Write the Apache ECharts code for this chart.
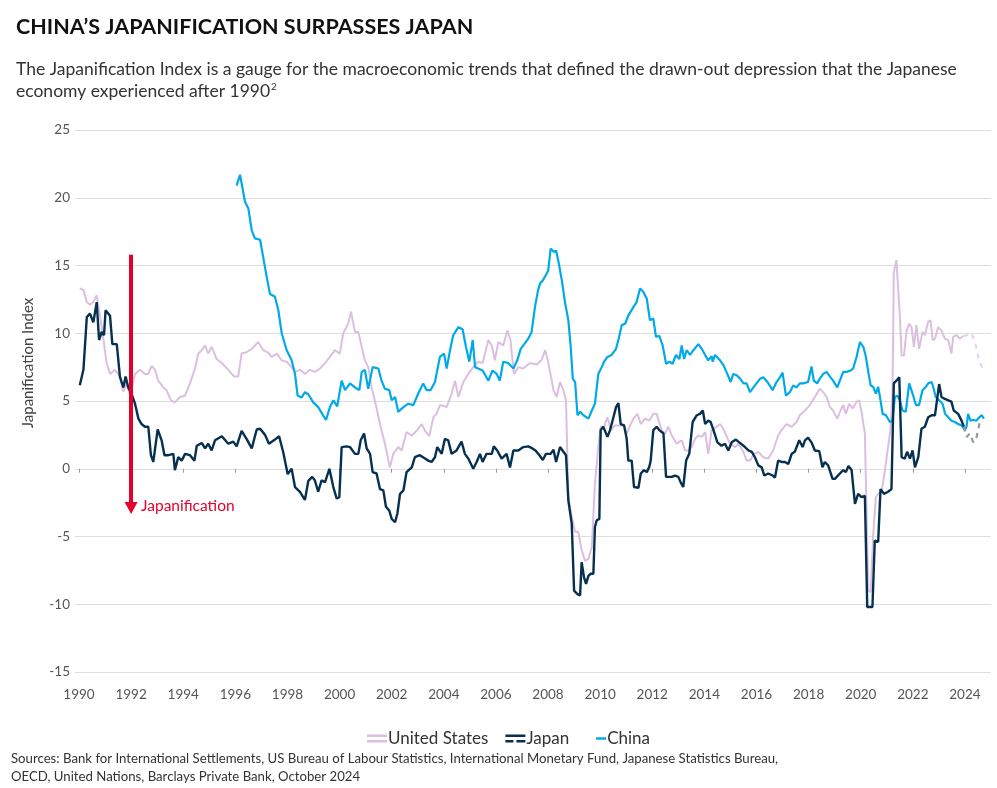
<!DOCTYPE html>
<html>
<head>
<meta charset="utf-8">
<script src="https://cdn.jsdelivr.net/npm/echarts@6/dist/echarts.min.js"></script>
<style>
html,body{margin:0;padding:0;background:#fff;}
#chart{width:997px;height:788px;}
</style>
</head>
<body>
<div id="chart"></div>
<script>
// ---- Data (year, Japanification Index) ----
const seriesNames = ['United States', 'Japan', 'China'];
const xTicks = [1990,1992,1994,1996,1998,2000,2002,2004,2006,2008,2010,2012,2014,2016,2018,2020,2022,2024];
const yTicks = [-15,-10,-5,0,5,10,15,20,25];

const usData = [
[1990.03,13.3],[1990.17,13.2],[1990.3,12.3],[1990.42,12.1],[1990.55,12.3],[1990.68,12.8],[1990.87,10.5],[1991.06,7.8],[1991.19,7.0],[1991.38,7.3],[1991.57,6.8],[1991.70,5.7],[1991.83,6.3],[1991.96,5.4],[1992.15,7.0],[1992.34,7.3],[1992.53,7.0],[1992.66,7.0],[1992.79,7.6],[1992.92,7.3],[1993.04,6.5],[1993.24,6.0],[1993.36,5.8],[1993.53,5.05],[1993.68,4.9],[1993.88,5.3],[1994.07,5.4],[1994.26,6.3],[1994.45,7.4],[1994.58,8.5],[1994.71,8.75],[1994.84,9.1],[1994.96,8.5],[1995.09,9.0],[1995.28,8.1],[1995.48,7.8],[1995.73,7.3],[1995.96,6.8],[1996.11,6.8],[1996.24,8.5],[1996.43,8.6],[1996.63,8.85],[1996.88,9.35],[1997.07,8.75],[1997.27,8.55],[1997.39,8.25],[1997.59,8.5],[1997.78,8.0],[1997.97,7.9],[1998.16,7.5],[1998.29,7.15],[1998.48,7.3],[1998.67,7.0],[1998.86,7.3],[1999.06,7.15],[1999.25,7.4],[1999.44,7.8],[1999.63,8.25],[1999.82,8.75],[2000.01,8.5],[2000.14,10.0],[2000.33,10.7],[2000.44,11.6],[2000.59,10.1],[2000.72,10.1],[2000.85,9.0],[2000.97,8.0],[2001.10,7.5],[2001.23,6.0],[2001.36,5.0],[2001.55,3.3],[2001.74,1.85],[2001.93,0.1],[2002.06,1.1],[2002.25,1.6],[2002.38,1.35],[2002.57,2.7],[2002.77,2.45],[2002.96,2.8],[2003.15,3.3],[2003.28,2.8],[2003.44,2.4],[2003.60,3.8],[2003.72,4.05],[2003.85,4.7],[2004.11,4.55],[2004.30,5.55],[2004.43,6.5],[2004.56,5.3],[2004.75,6.4],[2004.94,7.0],[2005.13,7.5],[2005.32,7.9],[2005.49,7.8],[2005.71,9.5],[2005.84,9.1],[2005.96,8.0],[2006.09,9.35],[2006.28,9.1],[2006.44,10.2],[2006.56,9.5],[2006.69,7.0],[2006.86,7.5],[2007.05,7.4],[2007.31,7.8],[2007.57,7.7],[2007.76,8.05],[2007.89,8.75],[2007.98,8.1],[2008.08,7.15],[2008.21,5.8],[2008.33,5.3],[2008.46,6.4],[2008.59,5.8],[2008.69,5.05],[2008.78,-2.1],[2008.91,-3.55],[2009.04,-4.65],[2009.16,-4.65],[2009.29,-6.0],[2009.42,-6.8],[2009.55,-6.65],[2009.68,-5.8],[2009.80,-1.1],[2009.93,1.6],[2010.02,3.1],[2010.15,3.1],[2010.28,3.8],[2010.41,2.85],[2010.57,3.2],[2010.74,3.2],[2010.89,3.2],[2011.02,2.6],[2011.15,3.2],[2011.28,3.7],[2011.43,4.05],[2011.56,3.3],[2011.72,3.7],[2011.89,3.55],[2012.04,4.05],[2012.17,4.05],[2012.36,2.85],[2012.49,2.6],[2012.62,3.1],[2012.75,2.45],[2012.94,1.85],[2013.13,2.1],[2013.26,1.35],[2013.39,1.35],[2013.51,1.6],[2013.64,2.2],[2013.77,2.45],[2013.90,2.35],[2014.03,2.7],[2014.15,1.1],[2014.28,2.85],[2014.47,3.1],[2014.60,3.3],[2014.73,2.95],[2014.86,2.35],[2014.98,1.85],[2015.18,1.6],[2015.30,1.85],[2015.50,1.25],[2015.62,0.6],[2015.75,0.6],[2015.91,1.1],[2016.07,1.25],[2016.26,0.85],[2016.45,0.75],[2016.64,1.35],[2016.83,2.45],[2016.96,2.85],[2017.15,3.3],[2017.35,3.1],[2017.54,3.45],[2017.66,3.95],[2017.86,4.3],[2018.05,4.7],[2018.24,5.3],[2018.43,5.9],[2018.56,5.65],[2018.69,5.3],[2018.82,4.55],[2018.94,4.3],[2019.10,3.7],[2019.20,4.2],[2019.33,4.7],[2019.43,4.05],[2019.56,4.8],[2019.69,4.45],[2019.84,4.95],[2019.94,5.05],[2020.03,4.2],[2020.16,2.6],[2020.22,-2.85],[2020.29,-9.0],[2020.38,-9.1],[2020.48,-4.8],[2020.58,-2.1],[2020.67,-1.85],[2020.80,-1.7],[2020.93,-0.1],[2021.05,1.6],[2021.14,2.85],[2021.22,5.55],[2021.27,14.5],[2021.37,15.4],[2021.44,15.5],[2021.50,11.3],[2021.57,8.35],[2021.66,8.35],[2021.76,10.2],[2021.86,10.7],[2021.95,10.45],[2022.04,9.0],[2022.14,10.6],[2022.24,8.85],[2022.37,10.1],[2022.46,9.85],[2022.59,10.85],[2022.68,10.95],[2022.76,9.5],[2022.85,9.6],[2022.97,10.45],[2023.10,10.2],[2023.23,9.6],[2023.36,9.5],[2023.48,8.5],[2023.55,9.75],[2023.68,9.85],[2023.80,9.6],[2023.93,9.8]
];
const usEstimate = [
[2023.93,9.8],[2024.08,9.85],[2024.25,10.0],[2024.38,9.4],[2024.52,8.2],[2024.66,7.45]
];

const japanData = [
[1990.03,6.16],[1990.17,7.3],[1990.30,11.2],[1990.42,11.45],[1990.55,10.8],[1990.68,12.3],[1990.77,9.5],[1990.87,10.1],[1990.96,9.85],[1991.02,11.7],[1991.19,11.3],[1991.28,9.2],[1991.45,9.2],[1991.57,6.8],[1991.70,6.0],[1991.79,6.8],[1991.89,6.0],[1992.02,5.5],[1992.15,4.8],[1992.28,3.7],[1992.40,3.3],[1992.53,3.1],[1992.66,3.1],[1992.76,1.0],[1992.85,0.5],[1993.02,2.9],[1993.17,2.1],[1993.28,1.0],[1993.43,1.0],[1993.62,1.1],[1993.68,-0.1],[1993.81,0.86],[1993.94,0.6],[1994.07,1.1],[1994.26,1.0],[1994.43,0.6],[1994.52,1.7],[1994.71,1.9],[1994.84,1.5],[1994.96,1.85],[1995.09,1.35],[1995.22,2.1],[1995.48,2.4],[1995.73,1.85],[1995.92,2.0],[1996.05,1.65],[1996.24,2.8],[1996.43,2.2],[1996.63,1.5],[1996.82,2.9],[1996.95,2.95],[1997.14,2.5],[1997.29,1.85],[1997.52,2.15],[1997.68,2.4],[1997.84,1.2],[1998.01,-0.4],[1998.16,0.0],[1998.29,-1.35],[1998.48,-1.7],[1998.67,-2.3],[1998.80,-0.9],[1998.95,-0.6],[1999.05,-0.85],[1999.18,-1.7],[1999.31,-0.85],[1999.44,-1.0],[1999.61,0.0],[1999.76,-1.35],[1999.89,-2.2],[1999.99,-2.1],[2000.08,1.6],[2000.27,1.65],[2000.40,1.6],[2000.59,1.1],[2000.72,1.1],[2000.81,2.1],[2000.94,2.6],[2001.04,1.5],[2001.17,1.1],[2001.27,-0.25],[2001.42,-0.35],[2001.55,-1.5],[2001.68,-1.6],[2001.78,-2.8],[2001.91,-3.1],[2002.00,-3.7],[2002.13,-3.95],[2002.22,-3.3],[2002.32,-1.85],[2002.45,-1.6],[2002.57,-0.25],[2002.77,0.1],[2002.89,0.85],[2003.08,1.0],[2003.28,0.75],[2003.40,0.6],[2003.53,0.5],[2003.66,0.85],[2003.75,1.6],[2003.92,1.1],[2004.04,2.2],[2004.17,2.1],[2004.30,1.1],[2004.49,1.35],[2004.68,2.0],[2004.81,1.1],[2004.94,0.75],[2005.13,0.0],[2005.26,0.5],[2005.39,1.1],[2005.49,0.5],[2005.64,1.1],[2005.84,1.1],[2005.92,1.65],[2006.05,1.35],[2006.22,0.75],[2006.41,1.1],[2006.54,0.1],[2006.67,1.35],[2006.86,1.35],[2007.05,1.6],[2007.24,1.65],[2007.40,1.5],[2007.52,1.35],[2007.67,1.0],[2007.80,0.65],[2007.92,1.1],[2008.10,1.1],[2008.21,1.4],[2008.31,0.5],[2008.46,1.6],[2008.59,1.25],[2008.69,1.0],[2008.78,-2.35],[2008.91,-4.05],[2009.00,-9.0],[2009.13,-9.25],[2009.23,-9.35],[2009.29,-6.9],[2009.38,-8.0],[2009.46,-8.5],[2009.55,-7.9],[2009.64,-7.75],[2009.74,-7.75],[2009.80,-4.3],[2009.87,-3.8],[2009.97,-3.7],[2010.02,2.85],[2010.12,3.1],[2010.28,2.35],[2010.38,2.85],[2010.51,3.8],[2010.61,4.55],[2010.70,4.85],[2010.79,3.3],[2010.92,3.2],[2011.02,2.2],[2011.08,0.6],[2011.21,0.6],[2011.30,-1.35],[2011.47,-1.4],[2011.56,-0.35],[2011.68,-0.1],[2011.79,-0.25],[2011.88,0.1],[2011.94,0.6],[2012.04,2.85],[2012.17,3.1],[2012.27,2.85],[2012.43,2.6],[2012.53,-0.6],[2012.75,-0.6],[2012.87,-0.5],[2013.00,-0.6],[2013.09,-1.0],[2013.19,-1.35],[2013.30,0.6],[2013.42,1.1],[2013.55,3.45],[2013.71,3.95],[2013.83,4.05],[2013.94,4.3],[2014.03,3.3],[2014.15,3.55],[2014.24,3.45],[2014.35,2.85],[2014.50,1.95],[2014.66,1.7],[2014.79,1.85],[2014.92,1.35],[2015.05,1.95],[2015.21,2.15],[2015.34,1.95],[2015.50,1.7],[2015.69,1.35],[2015.82,1.25],[2015.94,0.85],[2016.07,0.25],[2016.20,0.1],[2016.30,-0.5],[2016.45,-0.35],[2016.62,-0.5],[2016.71,-0.65],[2016.83,0.6],[2016.96,0.5],[2017.09,0.5],[2017.22,0.35],[2017.35,1.1],[2017.47,1.25],[2017.64,2.1],[2017.77,1.6],[2017.86,2.1],[2017.98,2.3],[2018.11,1.95],[2018.24,1.35],[2018.41,1.3],[2018.53,0.1],[2018.62,0.5],[2018.75,0.25],[2018.92,-0.75],[2019.01,-0.75],[2019.20,-0.35],[2019.33,-0.1],[2019.43,-0.25],[2019.53,0.2],[2019.65,-0.1],[2019.78,-2.6],[2019.90,-1.85],[2020.03,-2.1],[2020.16,-2.0],[2020.25,-10.2],[2020.45,-10.2],[2020.54,-5.3],[2020.67,-5.4],[2020.76,-1.5],[2020.89,-1.85],[2021.05,-1.7],[2021.18,-1.5],[2021.27,6.3],[2021.37,6.5],[2021.48,6.75],[2021.57,0.85],[2021.69,0.75],[2021.78,1.25],[2021.89,0.75],[2021.99,1.35],[2022.08,0.1],[2022.21,0.85],[2022.33,2.95],[2022.46,3.1],[2022.59,3.8],[2022.72,3.95],[2022.85,3.95],[2022.91,4.8],[2023.01,6.25],[2023.10,5.3],[2023.23,5.15],[2023.36,5.05],[2023.48,4.95],[2023.57,4.3],[2023.74,4.05],[2023.87,3.55],[2023.96,3.1]
];
const japanEstimate = [
[2023.96,3.1],[2024.06,2.35],[2024.19,2.6],[2024.32,1.95],[2024.45,2.35],[2024.57,3.45],[2024.67,3.45]
];

const chinaData = [
[1996.05,20.9],[1996.18,21.7],[1996.24,21.7],[1996.37,19.7],[1996.50,19.2],[1996.63,17.6],[1996.75,17.0],[1996.95,16.9],[1997.07,15.6],[1997.20,14.2],[1997.33,12.9],[1997.52,12.7],[1997.65,11.7],[1997.78,10.0],[1997.97,8.75],[1998.16,8.0],[1998.29,7.0],[1998.39,5.4],[1998.54,5.25],[1998.67,5.65],[1998.80,5.5],[1998.99,4.9],[1999.18,4.55],[1999.38,3.9],[1999.48,3.6],[1999.63,4.55],[1999.76,5.05],[1999.91,4.6],[2000.08,6.5],[2000.21,5.8],[2000.40,6.3],[2000.59,6.0],[2000.76,5.8],[2000.85,7.15],[2000.97,7.3],[2001.10,5.9],[2001.27,7.5],[2001.49,7.4],[2001.61,6.5],[2001.74,5.9],[2001.91,5.8],[2002.00,5.05],[2002.13,5.3],[2002.25,4.2],[2002.45,4.55],[2002.64,4.8],[2002.83,4.7],[2003.02,5.55],[2003.21,6.3],[2003.34,5.8],[2003.49,5.8],[2003.66,6.4],[2003.85,8.25],[2004.01,8.5],[2004.11,7.4],[2004.24,8.75],[2004.36,9.85],[2004.56,10.45],[2004.72,10.3],[2004.85,9.0],[2004.98,7.9],[2005.11,9.5],[2005.20,7.5],[2005.32,7.4],[2005.49,7.25],[2005.71,6.5],[2005.87,7.25],[2006.03,7.0],[2006.15,6.5],[2006.28,7.9],[2006.47,7.8],[2006.67,7.4],[2006.82,8.0],[2006.95,8.85],[2007.11,9.25],[2007.24,9.6],[2007.37,10.1],[2007.50,11.95],[2007.62,13.2],[2007.70,13.7],[2007.80,13.9],[2007.92,14.3],[2008.01,14.65],[2008.10,16.25],[2008.23,16.0],[2008.31,16.1],[2008.40,15.3],[2008.53,13.9],[2008.65,12.3],[2008.78,10.95],[2008.87,9.0],[2008.95,6.65],[2009.04,6.4],[2009.13,3.95],[2009.23,4.2],[2009.36,3.95],[2009.55,3.7],[2009.68,4.3],[2009.80,4.8],[2009.93,7.0],[2010.06,7.5],[2010.15,7.9],[2010.28,8.25],[2010.44,8.4],[2010.61,8.85],[2010.70,9.5],[2010.83,10.6],[2010.96,10.7],[2011.08,11.3],[2011.28,11.95],[2011.40,12.3],[2011.53,13.3],[2011.66,13.05],[2011.79,12.55],[2011.91,10.95],[2012.04,11.1],[2012.14,9.75],[2012.27,9.8],[2012.40,9.1],[2012.53,7.75],[2012.66,7.9],[2012.78,7.75],[2012.91,8.4],[2013.04,8.1],[2013.13,9.1],[2013.22,8.1],[2013.32,8.75],[2013.45,8.4],[2013.58,8.75],[2013.77,9.2],[2013.90,8.85],[2014.03,8.4],[2014.15,8.0],[2014.28,8.3],[2014.32,7.9],[2014.41,8.4],[2014.60,8.0],[2014.73,7.65],[2014.88,7.0],[2015.01,6.4],[2015.11,7.0],[2015.24,6.9],[2015.37,6.65],[2015.50,6.3],[2015.62,6.3],[2015.75,5.65],[2015.94,6.15],[2016.14,6.65],[2016.26,6.75],[2016.42,6.4],[2016.62,5.8],[2016.77,6.4],[2016.92,6.8],[2017.00,7.1],[2017.05,7.15],[2017.13,5.4],[2017.28,5.65],[2017.41,6.15],[2017.54,6.0],[2017.66,6.3],[2017.79,6.3],[2017.98,6.4],[2018.05,6.3],[2018.11,7.55],[2018.20,6.5],[2018.33,6.3],[2018.43,6.65],[2018.56,7.0],[2018.69,7.15],[2018.82,6.8],[2018.94,6.5],[2019.10,6.0],[2019.20,6.5],[2019.33,7.15],[2019.46,7.15],[2019.61,7.25],[2019.71,7.4],[2019.84,8.25],[2019.97,9.35],[2020.10,9.0],[2020.20,8.25],[2020.29,7.15],[2020.38,6.15],[2020.48,6.05],[2020.58,5.55],[2020.67,6.05],[2020.76,5.05],[2020.84,4.05],[2020.97,3.95],[2021.12,3.45],[2021.22,3.55],[2021.31,5.3],[2021.40,5.4],[2021.50,5.05],[2021.60,4.3],[2021.73,4.2],[2021.86,6.3],[2021.99,5.55],[2022.12,4.7],[2022.24,4.7],[2022.37,5.8],[2022.50,6.05],[2022.59,6.3],[2022.72,6.4],[2022.78,6.05],[2022.88,5.3],[2023.01,5.05],[2023.14,4.8],[2023.24,4.05],[2023.36,3.8],[2023.48,3.55],[2023.61,3.45],[2023.74,3.3],[2023.87,3.2],[2024.00,2.85],[2024.06,3.1],[2024.12,4.05],[2024.21,3.55],[2024.32,3.6],[2024.44,3.55],[2024.55,3.8],[2024.64,3.95],[2024.73,3.7]
];

// Annotation arrow (start/end of the "Japanification" arrow, in data units)
const arrowYear = 1992;
const arrowFrom = 15.8;
const arrowTo = -2.9;

// ---- Styling ----
const FONT = 'Lato';
const C_US = '#dcbfe0';
const C_US_EST = '#e6d3e9';
const C_JP = '#06304f';
const C_JP_EST = '#8d9ba7';
const C_CN = '#00aae9';
const C_RED = '#e4002b';

const chart = echarts.init(document.getElementById('chart'), null, {renderer: 'canvas'});

const option = {
  animation: false,
  backgroundColor: '#ffffff',
  textStyle: {fontFamily: FONT},
  title: [
    {
      text: 'CHINA\u2019S JAPANIFICATION SURPASSES JAPAN',
      left: 11, top: 11,
      textStyle: {fontFamily: FONT, fontSize: 21.5, fontWeight: 700, color: '#111'}
    },
    {
      text: 'The Japanification Index is a gauge for the macroeconomic trends that defined the drawn-out depression that the Japanese\neconomy experienced after 1990{sup|2}',
      left: 11, top: 53,
      textStyle: {
        fontFamily: FONT, fontSize: 17.5, fontWeight: 400, color: '#333', lineHeight: 22,
        rich: {sup: {fontSize: 10, color: '#333', fontFamily: FONT, padding: [0, 0, 9, 1], lineHeight: 22}}
      }
    }
  ],
  legend: {
    top: 725, left: 362,
    itemWidth: 20, itemHeight: 8, itemGap: 17,
    textStyle: {fontFamily: FONT, fontSize: 17, color: '#333', padding: [0, 0, 0, -4]},
    data: [
      {name: 'United States', icon: 'path://M0,0H20V2.6H0Z M0,5.4H20V8H0Z'},
      {name: 'Japan', icon: 'path://M0,0H20V2.6H0Z M0,5.4H8V8H0Z M11,5.4H20V8H11Z'},
      {name: 'China', icon: 'path://M0,0H0.01V0.01H0Z M10,2.8H20V5.2H10Z M19.99,7.99H20V8H19.99Z'}
    ]
  },
  grid: {left: 79, right: 6, top: 130, bottom: 116, containLabel: false},
  xAxis: {
    type: 'value', min: 1990, max: 2025, interval: 2,
    offset: 9,
    axisLine: {show: false},
    axisTick: {show: true, length: 4, lineStyle: {color: '#999'}, customValues: xTicks},
    axisLabel: {color: '#555', fontSize: 13.5, fontFamily: FONT, margin: 7, customValues: xTicks,
      formatter: v => String(Math.round(v))},
    splitLine: {show: false}
  },
  yAxis: {
    type: 'value', min: -15, max: 25, interval: 5,
    axisLine: {show: false},
    axisTick: {show: true, length: 4, lineStyle: {color: '#dedede'}},
    axisLabel: {color: '#555', fontSize: 13.5, fontFamily: FONT, margin: 9},
    splitLine: {show: true, lineStyle: {color: '#dedede', width: 1}}
  },
  series: [
    {
      name: 'United States', type: 'line', data: usData, showSymbol: false,
      lineStyle: {color: C_US, width: 2}, itemStyle: {color: C_US}, z: 2
    },
    {
      name: 'United States est', type: 'line', data: usEstimate, showSymbol: false,
      lineStyle: {color: C_US_EST, width: 2, type: [5, 5]}, itemStyle: {color: C_US_EST}, z: 2
    },
    {
      name: 'China', type: 'line', data: chinaData, showSymbol: false,
      lineStyle: {color: C_CN, width: 2.2}, itemStyle: {color: C_CN}, z: 3
    },
    {
      name: 'Japan', type: 'line', data: japanData, showSymbol: false,
      lineStyle: {color: C_JP, width: 2.4}, itemStyle: {color: C_JP}, z: 4,
      markLine: {
        silent: true,
        symbol: ['none', 'triangle'],
        symbolSize: [13, 12],
        label: {show: false},
        lineStyle: {color: C_RED, width: 4, type: 'solid'},
        data: [[{coord: [arrowYear, arrowFrom]}, {coord: [arrowYear, arrowTo]}]],
        z: 10
      }
    },
    {
      name: 'Japan est', type: 'line', data: japanEstimate, showSymbol: false,
      lineStyle: {color: C_JP_EST, width: 2.2, type: [5, 5]}, itemStyle: {color: C_JP_EST}, z: 4
    }
  ],
  graphic: [
    {
      type: 'text', left: 141, top: 498,
      style: {text: 'Japanification', fill: C_RED, font: '15.5px ' + FONT}
    },
    {
      type: 'text', x: 28, y: 363, rotation: Math.PI / 2,
      style: {text: 'Japanification Index', fill: '#444', font: '15px ' + FONT, align: 'center', verticalAlign: 'middle'}
    },
    {
      type: 'text', left: 11, top: 750,
      style: {
        text: 'Sources: Bank for International Settlements, US Bureau of Labour Statistics, International Monetary Fund, Japanese Statistics Bureau,\nOECD, United Nations, Barclays Private Bank, October 2024',
        fill: '#333', font: '13.2px ' + FONT, lineHeight: 18
      }
    }
  ]
};
chart.setOption(option);
</script>
</body>
</html>
